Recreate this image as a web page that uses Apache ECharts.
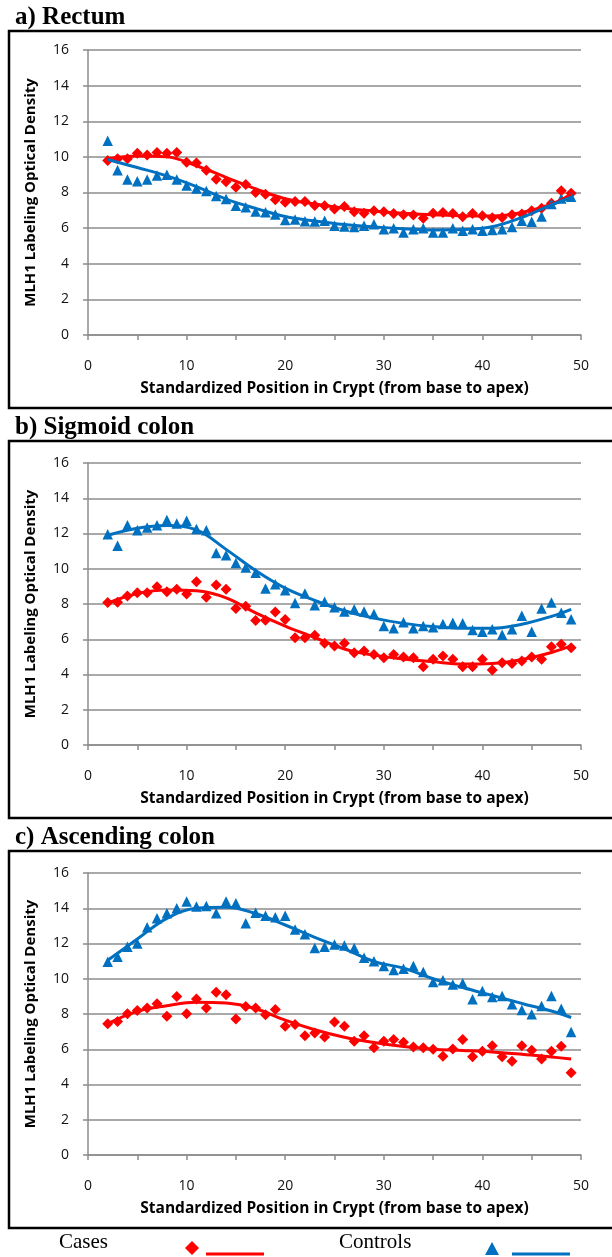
<!DOCTYPE html>
<html>
<head>
    <meta charset="utf-8">
    <script type="text/javascript" src="https://cdn.jsdelivr.net/npm/echarts@6/dist/echarts.min.js"></script>
    <style>
        body { margin: 0; background: #fff; }
    </style>
</head>
<body>
<div id="main" style="width:612px;height:1257px"></div>
<script type="text/javascript">
    // crypt positions of the measured points
    var xPos = [2, 3, 4, 5, 6, 7, 8, 9, 10, 11, 12, 13, 14, 15, 16, 17, 18, 19, 20, 21, 22, 23, 24, 25,
        26, 27, 28, 29, 30, 31, 32, 33, 34, 35, 36, 37, 38, 39, 40, 41, 42, 43, 44, 45, 46, 47, 48, 49];
    // positions where the fitted curves are sampled
    var fitX = [2, 5, 8, 11, 14, 17, 20, 23, 26, 29, 32, 35, 38, 41, 44, 47, 49];

    var panelTitles = ['a) Rectum', 'b) Sigmoid colon', 'c) Ascending colon'];

    // a) Rectum
    var rectumCases = [9.8, 9.9, 9.9, 10.2, 10.1, 10.25, 10.2, 10.25, 9.7, 9.65, 9.25, 8.75, 8.6, 8.3, 8.45, 8.0, 7.9, 7.6, 7.45, 7.5, 7.5, 7.27,
        7.25, 7.07, 7.21, 6.92, 6.84, 6.97, 6.92, 6.82, 6.75, 6.73, 6.56, 6.84, 6.88, 6.82, 6.64, 6.82, 6.69, 6.58, 6.6, 6.75, 6.8, 6.97, 7.12, 7.4, 8.1, 7.96];
    var rectumControls = [10.9, 9.25, 8.73, 8.63, 8.73, 8.95, 9.0, 8.73, 8.39, 8.22, 8.09, 7.81, 7.63, 7.26, 7.17, 6.93, 6.89, 6.76, 6.46, 6.48, 6.39, 6.37,
        6.41, 6.13, 6.09, 6.07, 6.13, 6.22, 5.94, 6.0, 5.76, 5.94, 6.0, 5.76, 5.76, 6.0, 5.85, 5.94, 5.85, 5.89, 5.94, 6.07, 6.41, 6.36, 6.65, 7.35, 7.66, 7.76];
    var rectumCasesFit = [9.9, 10.05, 10.0, 9.5, 8.85, 8.2, 7.65, 7.35, 7.12, 6.96, 6.83, 6.75, 6.69, 6.68, 6.88, 7.35, 7.9];
    var rectumControlsFit = [9.85, 9.4, 8.93, 8.33, 7.63, 7.11, 6.65, 6.4, 6.2, 6.07, 5.97, 5.9, 5.92, 6.08, 6.6, 7.3, 7.72];

    // b) Sigmoid colon
    var sigmoidCases = [8.08, 8.1, 8.45, 8.64, 8.64, 8.98, 8.7, 8.83, 8.57, 9.26, 8.38, 9.08, 8.83, 7.74, 7.87, 7.06, 7.08, 7.55, 7.12, 6.09, 6.09, 6.22,
        5.77, 5.62, 5.77, 5.24, 5.33, 5.14, 4.95, 5.14, 4.99, 4.95, 4.44, 4.86, 5.05, 4.86, 4.44, 4.44, 4.86, 4.25, 4.67, 4.63, 4.76, 5.0, 4.86, 5.58, 5.71, 5.52];
    var sigmoidControls = [11.96, 11.3, 12.47, 12.19, 12.34, 12.47, 12.76, 12.57, 12.72, 12.25, 12.19, 10.9, 10.77, 10.33, 10.07, 9.77, 8.88, 9.12, 8.78, 8.06, 8.59, 7.93,
        8.13, 7.81, 7.57, 7.7, 7.57, 7.43, 6.75, 6.62, 6.96, 6.62, 6.75, 6.68, 6.87, 6.94, 6.91, 6.53, 6.43, 6.57, 6.25, 6.57, 7.34, 6.43, 7.75, 8.08, 7.51, 7.13];
    var sigmoidCasesFit = [8.05, 8.6, 8.8, 8.75, 8.35, 7.5, 6.75, 6.1, 5.45, 5.1, 4.88, 4.72, 4.6, 4.63, 4.85, 5.25, 5.62];
    var sigmoidControlsFit = [11.9, 12.3, 12.45, 12.2, 11.1, 9.9, 8.9, 8.2, 7.62, 7.2, 6.9, 6.72, 6.62, 6.62, 6.85, 7.3, 7.7];

    // c) Ascending colon
    var ascendingCases = [7.45, 7.58, 8.02, 8.2, 8.34, 8.58, 7.87, 9.0, 8.02, 8.85, 8.34, 9.23, 9.09, 7.72, 8.43, 8.34, 7.96, 8.25, 7.3, 7.4, 6.77, 6.92,
        6.7, 7.55, 7.3, 6.45, 6.77, 6.08, 6.45, 6.55, 6.4, 6.13, 6.08, 6.0, 5.6, 6.02, 6.55, 5.57, 5.89, 6.2, 5.57, 5.32, 6.2, 5.94, 5.45, 5.89, 6.17, 4.66];
    var ascendingControls = [10.97, 11.25, 11.82, 12.0, 12.92, 13.43, 13.72, 14.0, 14.38, 14.1, 14.13, 13.72, 14.38, 14.28, 13.15, 13.75, 13.58, 13.49, 13.58, 12.8, 12.52, 11.75,
        11.81, 11.94, 11.89, 11.75, 11.19, 11.0, 10.72, 10.49, 10.57, 10.72, 10.38, 9.81, 9.91, 9.68, 9.74, 8.83, 9.3, 8.96, 9.02, 8.55, 8.23, 7.98, 8.45, 9.02, 8.3, 6.98];
    var ascendingCasesFit = [7.45, 8.15, 8.47, 8.66, 8.62, 8.3, 7.65, 7.11, 6.68, 6.38, 6.15, 6.0, 5.93, 5.85, 5.72, 5.56, 5.45];
    var ascendingControlsFit = [11.05, 12.25, 13.43, 14.0, 14.06, 13.7, 13.05, 12.35, 11.7, 10.98, 10.6, 10.0, 9.5, 9.05, 8.6, 8.17, 7.8];

    var yTicks = [0, 2, 4, 6, 8, 10, 12, 14, 16];

    var casesColor = '#ff0000';
    var controlsColor = '#0070c0';
    var gridColor = '#8c8c8c';
    var sans = '"Open Sans", "DejaVu Sans", sans-serif';
    var serif = '"Liberation Serif", "DejaVu Serif", serif';

    function pairs(xs, ys) {
        var out = [];
        for (var i = 0; i < ys.length; i++) {
            out.push([xs[i], ys[i]]);
        }
        return out;
    }

    var panels = [
        {top: 50, height: 285, box: 31, cases: rectumCases, controls: rectumControls, casesFit: rectumCasesFit, controlsFit: rectumControlsFit},
        {top: 463, height: 282, box: 441, cases: sigmoidCases, controls: sigmoidControls, casesFit: sigmoidCasesFit, controlsFit: sigmoidControlsFit},
        {top: 873, height: 282, box: 851, cases: ascendingCases, controls: ascendingControls, casesFit: ascendingCasesFit, controlsFit: ascendingControlsFit}
    ];

    var grids = [], xAxes = [], yAxes = [], series = [], titles = [], graphics = [];

    panels.forEach(function (p, i) {
        grids.push({left: 88, top: p.top, width: 493, height: p.height});
        titles.push({
            text: panelTitles[i], left: 10, top: p.box - 31,
            textStyle: {fontFamily: serif, fontWeight: 'bold', fontSize: 25, color: '#000'}
        });
        xAxes.push({
            type: 'value', gridIndex: i, min: 0, max: 50, interval: 5,
            name: 'Standardized Position in Crypt (from base to apex)',
            nameLocation: 'middle', nameGap: 46,
            nameTextStyle: {fontFamily: sans, fontWeight: 'bold', fontSize: 15.5, color: '#000'},
            axisLine: {lineStyle: {color: gridColor, width: 1.5}},
            axisTick: {show: true, length: 5, lineStyle: {color: gridColor, width: 1.5}},
            axisLabel: {
                margin: 24, fontFamily: sans, fontSize: 14, color: '#111',
                formatter: function (v) { return v % 10 === 0 ? String(v) : ''; }
            },
            splitLine: {show: false}
        });
        yAxes.push({
            type: 'value', gridIndex: i, min: yTicks[0], max: yTicks[yTicks.length - 1], interval: 2,
            name: 'MLH1 Labeling Optical Density',
            nameLocation: 'middle', nameGap: 50,
            nameTextStyle: {fontFamily: sans, fontWeight: 'bold', fontSize: 15, color: '#000'},
            axisLine: {show: true, lineStyle: {color: gridColor, width: 1.5}},
            axisTick: {show: true, length: 5, lineStyle: {color: gridColor, width: 1.5}},
            axisLabel: {margin: 19, fontFamily: sans, fontSize: 14, color: '#111'},
            splitLine: {show: true, lineStyle: {color: gridColor, width: 1.5}}
        });
        series.push({
            type: 'line', xAxisIndex: i, yAxisIndex: i, smooth: 0.4, showSymbol: false, silent: true,
            data: pairs(fitX, p.casesFit), lineStyle: {color: casesColor, width: 3}
        });
        series.push({
            type: 'line', xAxisIndex: i, yAxisIndex: i, smooth: 0.4, showSymbol: false, silent: true,
            data: pairs(fitX, p.controlsFit), lineStyle: {color: controlsColor, width: 3}
        });
        series.push({
            type: 'scatter', xAxisIndex: i, yAxisIndex: i, symbol: 'diamond', symbolSize: 11,
            data: pairs(xPos, p.cases), itemStyle: {color: casesColor, opacity: 1}
        });
        series.push({
            type: 'scatter', xAxisIndex: i, yAxisIndex: i, symbol: 'triangle', symbolSize: 10.5,
            data: pairs(xPos, p.controls), itemStyle: {color: controlsColor, opacity: 1}
        });
        // black frame round each panel
        graphics.push({
            type: 'rect', shape: {x: 9, y: p.box, width: 620, height: 377},
            style: {fill: 'none', stroke: '#000', lineWidth: 2.5}, silent: true
        });
    });

    // legend at the bottom: text, marker, line
    graphics.push(
        {type: 'text', left: 59, top: 1232, style: {text: 'Cases', font: '21px ' + serif, fill: '#000'}},
        {type: 'polygon', shape: {points: [[192, 1241], [199, 1248], [192, 1255], [185, 1248]]}, style: {fill: casesColor}},
        {type: 'line', shape: {x1: 206, y1: 1254, x2: 264, y2: 1254}, style: {stroke: casesColor, lineWidth: 3}},
        {type: 'text', left: 339, top: 1232, style: {text: 'Controls', font: '21px ' + serif, fill: '#000'}},
        {type: 'polygon', shape: {points: [[492, 1242], [499, 1255], [485, 1255]]}, style: {fill: controlsColor}},
        {type: 'line', shape: {x1: 512, y1: 1254, x2: 570, y2: 1254}, style: {stroke: controlsColor, lineWidth: 3}}
    );

    var myChart = echarts.init(document.getElementById('main'), null, {renderer: 'canvas'});
    myChart.setOption({
        animation: false,
        backgroundColor: '#fff',
        title: titles,
        grid: grids,
        xAxis: xAxes,
        yAxis: yAxes,
        series: series,
        graphic: graphics
    });
</script>
</body>
</html>
